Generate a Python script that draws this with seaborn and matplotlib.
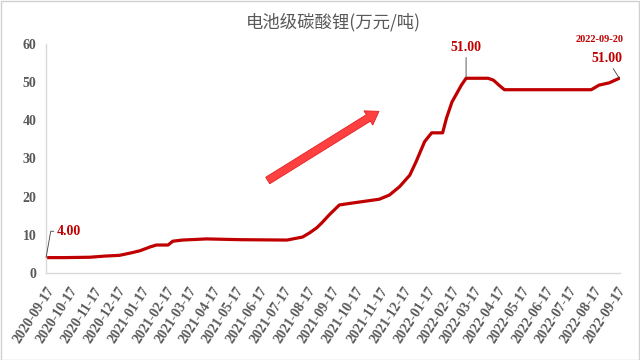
import seaborn as sns
import matplotlib.pyplot as plt
from matplotlib.patches import Rectangle
import pandas as pd

# price of battery grade lithium carbonate, 10k yuan / ton
dates = ['2020-09-17', '2020-10-10', '2020-11-12', '2020-12-01', '2020-12-20',
         '2021-01-05', '2021-01-15', '2021-01-28', '2021-02-05', '2021-02-20',
         '2021-02-26', '2021-03-10', '2021-04-10', '2021-05-23', '2021-07-22',
         '2021-08-11', '2021-08-20', '2021-08-29', '2021-09-05', '2021-09-14',
         '2021-09-27', '2021-10-10', '2021-11-17', '2021-11-30', '2021-12-13',
         '2021-12-26', '2022-01-03', '2022-01-14', '2022-01-23', '2022-02-06',
         '2022-02-11', '2022-02-18', '2022-03-02', '2022-03-08', '2022-04-05',
         '2022-04-12', '2022-04-19', '2022-04-26', '2022-08-15', '2022-08-25',
         '2022-09-07', '2022-09-20']
prices = [4.0, 4.0, 4.1, 4.4, 4.6, 5.3, 5.8, 6.8, 7.3, 7.3,
          8.3, 8.6, 8.9, 8.7, 8.6, 9.4, 10.5, 11.8, 13.2, 15.2,
          17.8, 18.2, 19.3, 20.4, 22.6, 25.6, 29.1, 34.4, 36.7, 36.7,
          40.6, 44.8, 49.2, 51.0, 51.0, 50.5, 49.2, 48.0, 48.0, 49.2,
          49.8, 51.0]
yticks = [0, 10, 20, 30, 40, 50, 60]

df = pd.DataFrame({'date': pd.to_datetime(dates), 'price': prices})

sns.set_style('white')
plt.rcParams['font.family'] = ['Liberation Serif', 'DejaVu Serif']
grey = '#595959'
red = '#C00000'

fig = plt.figure(figsize=(6.4, 3.6), dpi=100)
ax = fig.add_axes([0.072, 0.242, 0.897, 0.636])
sns.lineplot(data=df, x='date', y='price', color=red, linewidth=2.3, ax=ax)

ax.set_ylim(0, 60)
ax.set_yticks(yticks)
ax.set_xlim(pd.Timestamp('2020-09-17'), pd.Timestamp('2022-09-21'))
month_ticks = pd.date_range('2020-09-17', '2022-09-17', freq=pd.DateOffset(months=1))
ax.set_xticks(month_ticks)
ax.set_xticklabels([d.strftime('%Y-%m-%d') for d in month_ticks], rotation=57,
                   ha='right', va='top', rotation_mode='anchor')
ax.tick_params(axis='both', length=0, labelcolor=grey, labelsize=10)
ax.tick_params(axis='x', pad=8.5)
ax.tick_params(axis='y', pad=7)
for lbl in ax.get_xticklabels() + ax.get_yticklabels():
    lbl.set_fontweight('bold')
ax.set_xlabel('')
ax.set_ylabel('')
for s in ['top', 'right']:
    ax.spines[s].set_visible(False)
for s in ['left', 'bottom']:
    ax.spines[s].set_color('#d9d9d9')
    ax.spines[s].set_linewidth(1)

ax.set_title('电池级碳酸锂(万元/吨)', family=['Noto Sans CJK SC', 'DejaVu Sans'],
             fontsize=12.5, color=grey, pad=12)

# value labels
first = df.iloc[0]
peak = df.loc[df['price'].idxmax()]
last = df.iloc[-1]
lead = dict(arrowstyle='-', color='#404040', lw=0.6, shrinkA=0, shrinkB=0)
ax.annotate(f"{first['price']:.2f}", xy=(first['date'], first['price']),
            xytext=(8, 19), textcoords='offset points', ha='left', va='center',
            fontsize=10, fontweight='bold', color=red,
            arrowprops=dict(lead, connectionstyle='angle,angleA=0,angleB=80,rad=0'))
ax.annotate(f"{peak['price']:.2f}", xy=(peak['date'], peak['price']),
            xytext=(0, 22), textcoords='offset points', ha='center', va='center',
            fontsize=10, fontweight='bold', color=red, arrowprops=lead)
ax.annotate(f"{last['price']:.2f}", xy=(last['date'], last['price']),
            xytext=(-9, 14), textcoords='offset points', ha='center', va='center',
            fontsize=10, fontweight='bold', color=red, arrowprops=lead)
ax.annotate(last['date'].strftime('%Y-%m-%d'), xy=(last['date'], last['price']),
            xytext=(-14, 28), textcoords='offset points', ha='center', va='center',
            fontsize=7.5, fontweight='bold', color=red)

# trend arrow
ax.annotate('', xy=(0.584, 0.712), xytext=(0.382, 0.397), xycoords='axes fraction',
            arrowprops=dict(arrowstyle='simple,head_width=1.2,head_length=0.9,tail_width=0.55',
                            fc='#ff4040', ec='#e02020', lw=0.6, mutation_scale=10))

fig.patches.append(Rectangle((0.001, 0.001), 0.997, 0.996, transform=fig.transFigure,
                             fill=False, ec='#d0d0d0', lw=1))

fig.savefig('out.png', dpi=100)
